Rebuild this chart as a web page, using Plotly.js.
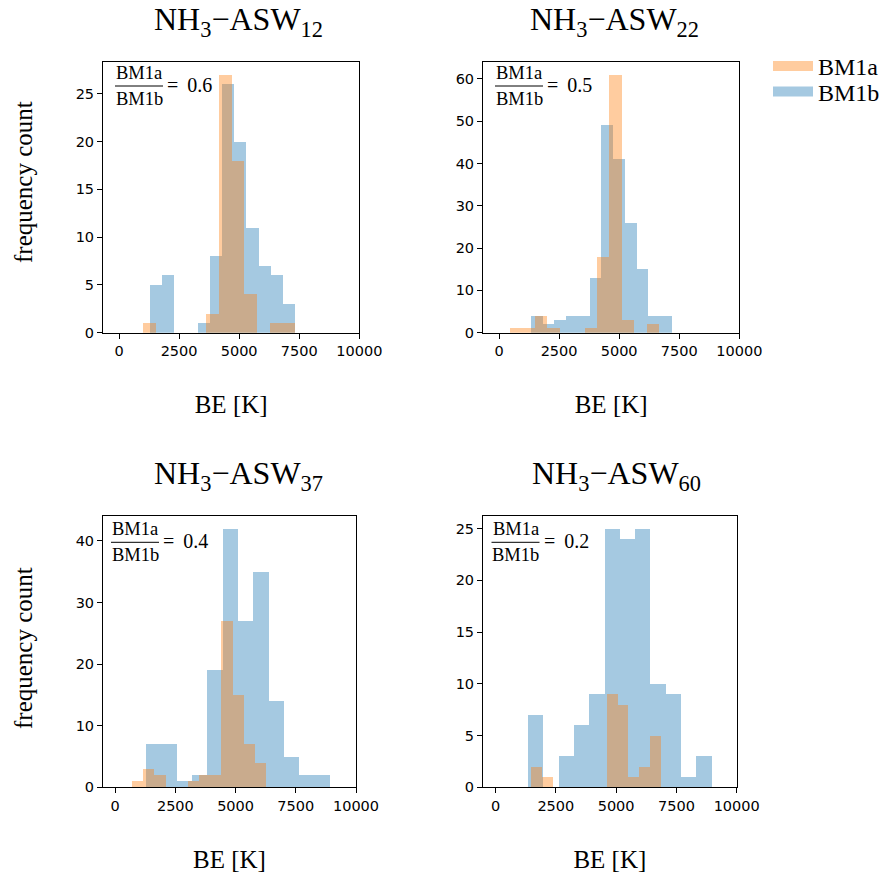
<!DOCTYPE html>
<html>
<head>
<meta charset="utf-8">
<script src="https://cdn.plot.ly/plotly-3.0.1.min.js"></script>
<style>html,body{margin:0;padding:0;background:#fff;}#chart{width:887px;height:876px;}</style>
</head>
<body>
<div id="chart"></div>
<script>
// ---- data (histogram bins: first edge, bin width, counts) ----
const panelTitles = ['NH<sub>3</sub>\u2212ASW<sub>12</sub>', 'NH<sub>3</sub>\u2212ASW<sub>22</sub>',
                     'NH<sub>3</sub>\u2212ASW<sub>37</sub>', 'NH<sub>3</sub>\u2212ASW<sub>60</sub>'];
const ratioLabels = ['0.6', '0.5', '0.4', '0.2'];
const seriesNames = ['BM1a', 'BM1b'];
const xTitle = 'BE [K]';
const yTitle = 'frequency count';

const bm1aStart = [1010, 458, 705, 1465];
const bm1aWidth = [525.8, 517.4, 463.4, 449.5];
const bm1bStart = [1270, 1332, 1286, 1354];
const bm1bWidth = [504.2, 487.8, 636.3, 633.9];

const bm1aCounts12 = [1, 0, 0, 0, 0, 2, 27, 18, 4, 0, 1, 1];
const bm1bCounts12 = [5, 6, 0, 0, 1, 8, 26, 20, 11, 7, 6, 3];
const bm1aCounts22 = [1, 1, 4, 1, 0, 0, 1, 18, 61, 3, 0, 2];
const bm1bCounts22 = [4, 2, 3, 4, 4, 13, 49, 41, 26, 15, 4, 4];
const bm1aCounts37 = [1, 3, 2, 0, 0, 1, 2, 2, 27, 15, 7, 4];
const bm1bCounts37 = [7, 7, 1, 2, 19, 42, 27, 35, 14, 5, 2, 2];
const bm1aCounts60 = [2, 1, 0, 0, 0, 0, 0, 9, 8, 1, 2, 5];
const bm1bCounts60 = [7, 0, 3, 6, 9, 25, 24, 25, 10, 9, 1, 3];

const xTickVals = [0, 2500, 5000, 7500, 10000];
const yTickStep = [5, 10, 10, 5];
const yMax = [28.35, 64.05, 44.1, 26.25];
const xMin = [-666, -666, -505, -520];
const xMax = 10000;

// ---- layout geometry (pixels) ----
const W = 887, H = 876;
const px = v => v / W;
const py = v => 1 - v / H;
const boxes = [
  {l: 103, r: 359.3, t: 61.7, b: 332.7},
  {l: 483, r: 739.3, t: 61.7, b: 332.7},
  {l: 103, r: 356,   t: 515.7, b: 787.3},
  {l: 483, r: 736.7, t: 515.7, b: 787.3}
];

const orange = 'rgba(255,127,14,0.4)';
const blue = 'rgba(31,119,180,0.4)';
const serif = 'Liberation Serif, Times New Roman, serif';
const sans = 'DejaVu Sans, sans-serif';

const aCounts = [bm1aCounts12, bm1aCounts22, bm1aCounts37, bm1aCounts60];
const bCounts = [bm1bCounts12, bm1bCounts22, bm1bCounts37, bm1bCounts60];

function centers(start, w, n) {
  const c = [];
  for (let i = 0; i < n; i++) c.push(start + w * (i + 0.5));
  return c;
}

const traces = [];
for (let p = 0; p < 4; p++) {
  const sfx = p === 0 ? '' : String(p + 1);
  // BM1b drawn first, BM1a on top
  traces.push({
    type: 'bar', name: seriesNames[1], legendgroup: 'b', showlegend: false,
    x: centers(bm1bStart[p], bm1bWidth[p], bCounts[p].length), y: bCounts[p],
    width: bCounts[p].map(() => bm1bWidth[p]),
    marker: {color: blue, line: {width: 0}},
    xaxis: 'x' + sfx, yaxis: 'y' + sfx, hoverinfo: 'x+y'
  });
  traces.push({
    type: 'bar', name: seriesNames[0], legendgroup: 'a', showlegend: false,
    x: centers(bm1aStart[p], bm1aWidth[p], aCounts[p].length), y: aCounts[p],
    width: aCounts[p].map(() => bm1aWidth[p]),
    marker: {color: orange, line: {width: 0}},
    xaxis: 'x' + sfx, yaxis: 'y' + sfx, hoverinfo: 'x+y'
  });
}
// legend entries (wide patches), one legend per row for exact spacing
traces.push({type: 'scatter', mode: 'lines', name: seriesNames[0], legendgroup: 'a', legend: 'legend',
  x: [null], y: [null], line: {color: orange, width: 12}, xaxis: 'x2', yaxis: 'y2', hoverinfo: 'skip'});
traces.push({type: 'scatter', mode: 'lines', name: seriesNames[1], legendgroup: 'b', legend: 'legend2',
  x: [null], y: [null], line: {color: blue, width: 12}, xaxis: 'x2', yaxis: 'y2', hoverinfo: 'skip'});

const legendBase = {xanchor: 'left', yanchor: 'top', itemwidth: 40,
  font: {family: serif, size: 24, color: '#000'}, bgcolor: 'rgba(0,0,0,0)', tracegroupgap: 0};

const layout = {
  width: W, height: H,
  margin: {l: 0, r: 0, t: 0, b: 0},
  paper_bgcolor: '#ffffff', plot_bgcolor: '#ffffff',
  barmode: 'overlay', bargap: 0,
  showlegend: true,
  legend: Object.assign({x: px(768), y: py(44)}, legendBase),
  legend2: Object.assign({x: px(768), y: py(69.5)}, legendBase),
  annotations: [], shapes: []
};

const titleCx = [238, 614.5, 238.5, 616];
const fracCx = [139, 519, 135, 515.5];
const fracHalf = 24;
const fracLineY = [86, 86, 542.3, 542.3];
const yTitleCy = [182, 648];

for (let p = 0; p < 4; p++) {
  const sfx = p === 0 ? '' : String(p + 1);
  const bx = boxes[p];
  const ticksY = [];
  for (let v = 0; v <= yMax[p]; v += yTickStep[p]) ticksY.push(v);
  layout['xaxis' + sfx] = {
    domain: [px(bx.l), px(bx.r)], range: [xMin[p], xMax], anchor: 'y' + sfx,
    showline: true, mirror: true, linecolor: '#000', linewidth: 1,
    showgrid: false, zeroline: false,
    ticks: 'outside', ticklen: 5, tickwidth: 1, tickcolor: '#000',
    tickmode: 'array', tickvals: xTickVals, ticktext: xTickVals.map(String),
    tickfont: {family: sans, size: 14.5, color: '#000'},
    title: {text: xTitle, font: {family: serif, size: 25, color: '#000'}, standoff: 37}
  };
  layout['yaxis' + sfx] = {
    domain: [py(bx.b), py(bx.t)], range: [0, yMax[p]], anchor: 'x' + sfx,
    showline: true, mirror: true, linecolor: '#000', linewidth: 1,
    showgrid: false, zeroline: false,
    ticks: 'outside', ticklen: 5, tickwidth: 1, tickcolor: '#000',
    tickmode: 'array', tickvals: ticksY, ticktext: ticksY.map(String),
    tickfont: {family: sans, size: 14.5, color: '#000'}
  };
  if (p % 2 === 0) {
    layout.annotations.push({
      text: yTitle, textangle: -90, xref: 'paper', yref: 'paper',
      x: px(23), y: py(yTitleCy[p / 2]), xanchor: 'center', yanchor: 'middle',
      showarrow: false, font: {family: serif, size: 25, color: '#000'}
    });
  }
  // subplot title
  layout.annotations.push({
    text: panelTitles[p], xref: 'paper', yref: 'paper',
    x: px(titleCx[p]), y: py(bx.t - 18), xanchor: 'center', yanchor: 'bottom',
    showarrow: false, font: {family: serif, size: 32, color: '#000'}
  });
  // ratio fraction
  const ly = fracLineY[p];
  layout.annotations.push({
    text: seriesNames[0], xref: 'paper', yref: 'paper', x: px(fracCx[p]), y: py(ly - 1),
    xanchor: 'center', yanchor: 'bottom', showarrow: false,
    font: {family: serif, size: 18.5, color: '#000'}
  });
  layout.annotations.push({
    text: seriesNames[1], xref: 'paper', yref: 'paper', x: px(fracCx[p]), y: py(ly + 1),
    xanchor: 'center', yanchor: 'top', showarrow: false,
    font: {family: serif, size: 18.5, color: '#000'}
  });
  layout.annotations.push({
    text: '=\u2009 ' + ratioLabels[p], xref: 'paper', yref: 'paper', x: px(fracCx[p] + fracHalf + 2), y: py(ly - 1),
    xanchor: 'left', yanchor: 'middle', showarrow: false,
    font: {family: serif, size: 20, color: '#000'}
  });
  layout.shapes.push({
    type: 'line', xref: 'paper', yref: 'paper',
    x0: px(fracCx[p] - fracHalf), x1: px(fracCx[p] + fracHalf), y0: py(ly), y1: py(ly),
    line: {color: '#000', width: 1}
  });
}

Plotly.newPlot('chart', traces, layout, {displayModeBar: false, staticPlot: true});
</script>
</body>
</html>
